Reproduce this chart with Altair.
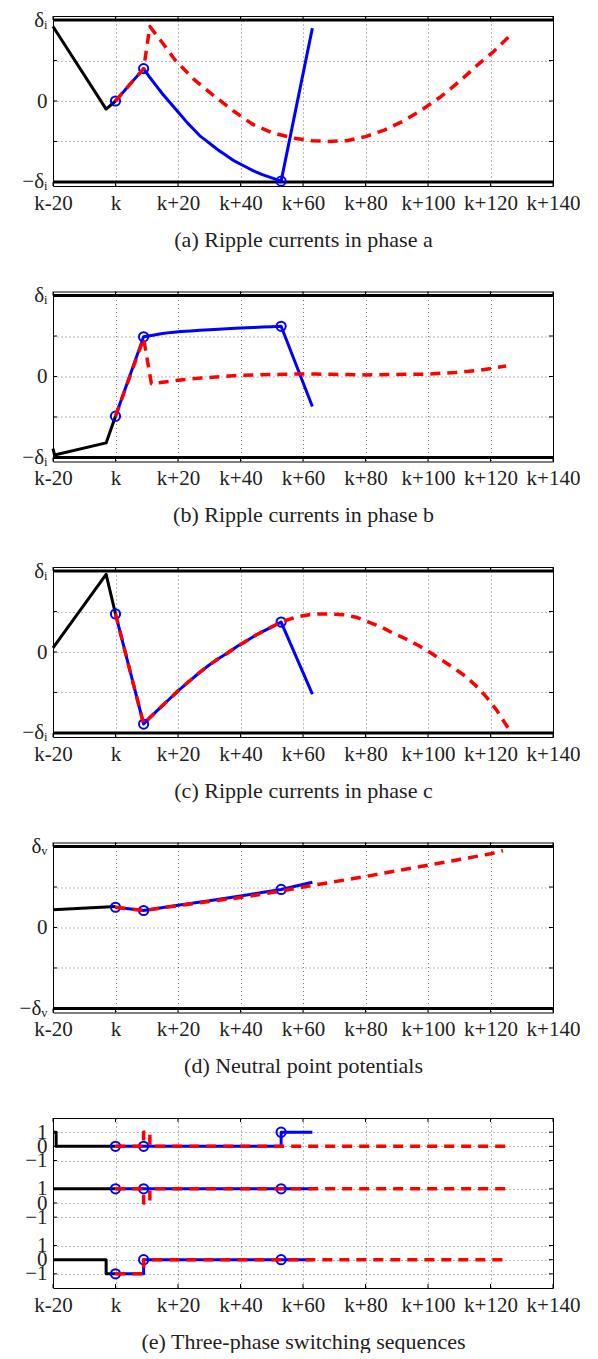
import altair as alt
import pandas as pd

# ---------------- data ----------------
X_TICKS = [-20, 0, 20, 40, 60, 80, 100, 120, 140]

# (a) ripple currents phase a
black_a_x = [-20, -3, 0]
black_a_y = [0.92, -0.10, 0.0]
blue_a_x = [0, 9, 11, 13, 15, 17, 19, 21, 23, 25, 27, 29, 31, 33, 35, 38, 41, 44, 47, 50, 53, 63]
blue_a_y = [0.0, 0.40, 0.29, 0.19, 0.09, 0.0, -0.09, -0.18, -0.27, -0.35, -0.43, -0.49, -0.55,
            -0.61, -0.66, -0.74, -0.80, -0.86, -0.91, -0.95, -0.99, 0.90]
red_a_x = [0, 9, 11, 15, 19, 25, 31, 38, 44, 50, 57, 63, 68, 74, 80, 86, 92, 98, 104, 110, 116, 121, 126]
red_a_y = [0.0, 0.40, 0.92, 0.72, 0.51, 0.27, 0.08, -0.13, -0.29, -0.39, -0.46, -0.49, -0.50, -0.49,
           -0.44, -0.36, -0.25, -0.11, 0.05, 0.24, 0.45, 0.61, 0.80]
circ_a_x = [0, 9, 53]
circ_a_y = [0.0, 0.40, -0.99]

# (b) ripple currents phase b
black_b_x = [-20, -19.5, -3, 0]
black_b_y = [-0.89, -0.97, -0.82, -0.49]
blue_b_x = [0, 9, 12, 15, 18, 21, 24, 27, 30, 33, 37, 40, 44, 47, 50, 53, 63]
blue_b_y = [-0.49, 0.49, 0.51, 0.53, 0.545, 0.555, 0.563, 0.57, 0.578, 0.585, 0.593, 0.60, 0.605,
            0.61, 0.615, 0.62, -0.37]
red_b_x = [0, 9, 11.5, 19, 27, 40, 57, 64, 80, 100, 109, 117, 125]
red_b_y = [-0.49, 0.47, -0.09, -0.05, -0.02, 0.015, 0.03, 0.03, 0.02, 0.03, 0.05, 0.08, 0.13]
circ_b_x = [0, 9, 53]
circ_b_y = [-0.49, 0.49, 0.62]

# (c) ripple currents phase c
black_c_x = [-20, -3, 0]
black_c_y = [0.05, 0.96, 0.47]
blue_c_x = [0, 9, 11, 14, 17, 20, 23, 27, 30, 33, 36, 39, 42, 45, 48, 51, 53, 63]
blue_c_y = [0.47, -0.89, -0.81, -0.70, -0.59, -0.48, -0.38, -0.25, -0.16, -0.08, -0.01, 0.07,
            0.14, 0.21, 0.27, 0.33, 0.37, -0.52]
red_c_x = [0, 9, 11, 14, 17, 20, 23, 27, 30, 33, 36, 39, 42, 45, 48, 51, 53, 56, 59, 62, 65, 69,
           73, 77, 81, 85, 89, 93, 97, 100, 104, 108, 112, 116, 119, 122, 124, 126]
red_c_y = [0.47, -0.89, -0.81, -0.70, -0.59, -0.48, -0.38, -0.25, -0.16, -0.08, -0.01, 0.07,
           0.14, 0.21, 0.27, 0.33, 0.37, 0.41, 0.44, 0.46, 0.47, 0.47, 0.46, 0.43, 0.37, 0.31,
           0.23, 0.16, 0.08, 0.01, -0.09, -0.19, -0.30, -0.44, -0.57, -0.72, -0.84, -0.96]
circ_c_x = [0, 9, 53]
circ_c_y = [0.47, -0.89, 0.37]

# (d) neutral point potentials
black_d_x = [-20, 0]
black_d_y = [0.22, 0.26]
blue_d_x = [0, 9, 20, 30, 40, 53, 63]
blue_d_y = [0.25, 0.21, 0.275, 0.33, 0.39, 0.47, 0.56]
red_d_x = [0, 9, 20, 30, 40, 53, 63, 80, 100, 120, 124]
red_d_y = [0.25, 0.21, 0.27, 0.32, 0.37, 0.45, 0.52, 0.63, 0.77, 0.91, 0.95]
circ_d_x = [0, 9, 53]
circ_d_y = [0.25, 0.21, 0.47]

# (e) switching sequences (step-after change points), per phase
sw_black = {
    "a": ([-20, -19, 0], [1, 0, 0]),
    "b": ([-20, 0], [1, 1]),
    "c": ([-20, -3, 0], [0, -1, -1]),
}
sw_blue = {
    "a": ([0, 53, 63], [0, 1, 1]),
    "b": ([0, 63], [1, 1]),
    "c": ([0, 9, 63], [-1, 0, 0]),
}
sw_red = {
    "a": ([0, 9, 11, 126], [0, 1, 0, 0]),
    "b": ([0, 9, 11, 126], [1, 0, 1, 1]),
    "c": ([0, 9, 126], [-1, 0, 0]),
}
sw_circ = {
    "a": ([0, 9, 53], [0, 0, 1]),
    "b": ([0, 9, 53], [1, 1, 1]),
    "c": ([0, 9, 53], [-1, 0, 0]),
}

captions = [
    "(a) Ripple currents in phase a",
    "(b) Ripple currents in phase b",
    "(c) Ripple currents in phase c",
    "(d) Neutral point potentials",
    "(e) Three-phase switching sequences",
]

# ---------------- styling ----------------
FONT = "Liberation Serif"
W, H = 500, 170
BLACK, BLUE, RED = "#000000", "#0000ff", "#ff0000"
XLABEL_EXPR = ("datum.value == 0 ? 'k' : (datum.value < 0 ? 'k' + datum.value : 'k+' + datum.value)")


def label_expr(vals, labs):
    expr = "''"
    for v, l in zip(vals, labs):
        expr = f"datum.value == {v} ? '{l}' : ({expr})"
    return expr


def df(xs, ys):
    return pd.DataFrame({"x": xs, "y": ys, "i": list(range(len(xs)))})


def panel(ydom, yvals, ylabs, caption, lines, circles, delta=True, step=False):
    xs = alt.Scale(domain=[-20, 140], nice=False, zero=False)
    ysc = alt.Scale(domain=ydom, nice=False, zero=False)
    xaxis = alt.Axis(values=X_TICKS, labelExpr=XLABEL_EXPR, title=caption, grid=True,
                     ticks=False, domain=False, labelPadding=6, titlePadding=16,
                     labelOverlap=False, labelFlush=False)
    yaxis = alt.Axis(values=yvals, labelExpr=label_expr(yvals, ylabs), title=None, grid=True,
                     ticks=False, domain=False, labelPadding=6, labelOverlap=False,
                     labelFlush=False)

    def X(field="x"):
        return alt.X(f"{field}:Q", scale=xs, axis=xaxis)

    def Y(field="y"):
        return alt.Y(f"{field}:Q", scale=ysc, axis=yaxis)

    layers = []
    xt = pd.DataFrame({"x": X_TICKS})
    yt = pd.DataFrame({"y": yvals})
    # inward ticks
    for a, b in [(0, 4), (H, H - 4)]:
        layers.append(alt.Chart(xt).mark_rule(color="black", strokeWidth=1).encode(
            x=X(), y=alt.value(a), y2=alt.value(b)))
    for a, b in [(0, 4), (W, W - 4)]:
        layers.append(alt.Chart(yt).mark_rule(color="black", strokeWidth=1).encode(
            y=Y(), x=alt.value(a), x2=alt.value(b)))
    if delta:
        layers.append(alt.Chart(pd.DataFrame({"y": [1, -1]})).mark_rule(
            color="black", strokeWidth=3).encode(y=Y()))
    interp = "step-after" if step else "linear"
    for d, color, dash, sw in lines:
        mk = dict(color=color, strokeWidth=sw, interpolate=interp, strokeCap="butt",
                  strokeJoin="round")
        if dash:
            mk["strokeDash"] = dash
        enc = dict(x=X(), y=Y(), order=alt.Order("i:Q"))
        if "row" in d.columns:
            enc["detail"] = "row:N"
        layers.append(alt.Chart(d).mark_line(**mk).encode(**enc))
        if color == BLUE and circles is not None:
            layers.append(alt.Chart(circles).mark_point(
                shape="circle", filled=False, size=85, strokeWidth=2, color=BLUE, opacity=1
            ).encode(x=X(), y=Y()))
    return alt.layer(*layers).properties(width=W, height=H)


DASH = [10, 7]

pa = panel([-1.05, 1.05], [-1, -0.5, 0, 0.5, 1], ["−δᵢ", "", "0", "", "δᵢ"], captions[0],
           [(df(black_a_x, black_a_y), BLACK, None, 3), (df(blue_a_x, blue_a_y), BLUE, None, 3),
            (df(red_a_x, red_a_y), RED, DASH, 3.5)], df(circ_a_x, circ_a_y))
pb = panel([-1.05, 1.05], [-1, -0.5, 0, 0.5, 1], ["−δᵢ", "", "0", "", "δᵢ"], captions[1],
           [(df(black_b_x, black_b_y), BLACK, None, 3), (df(blue_b_x, blue_b_y), BLUE, None, 3),
            (df(red_b_x, red_b_y), RED, DASH, 3.5)], df(circ_b_x, circ_b_y))
pc = panel([-1.05, 1.05], [-1, -0.5, 0, 0.5, 1], ["−δᵢ", "", "0", "", "δᵢ"], captions[2],
           [(df(black_c_x, black_c_y), BLACK, None, 3), (df(blue_c_x, blue_c_y), BLUE, None, 3),
            (df(red_c_x, red_c_y), RED, DASH, 3.5)], df(circ_c_x, circ_c_y))
pd_ = panel([-1.05, 1.05], [-1, -0.5, 0, 0.5, 1], ["−δᵥ", "", "0", "", "δᵥ"], captions[3],
            [(df(black_d_x, black_d_y), BLACK, None, 3), (df(blue_d_x, blue_d_y), BLUE, None, 3),
             (df(red_d_x, red_d_y), RED, DASH, 3.5)], df(circ_d_x, circ_d_y))

ROW_OFFSET = {"a": 4, "b": 0, "c": -4}


def sw_df(sig):
    frames = []
    for ph, (xs_, vs_) in sig.items():
        f = df(xs_, [v + ROW_OFFSET[ph] for v in vs_])
        f["row"] = ph
        frames.append(f)
    return pd.concat(frames, ignore_index=True)


e_vals = [5, 4, 3, 1, 0, -1, -3, -4, -5]
e_labs = ["1", "0", "−1"] * 3
pe = panel([-6, 6], e_vals, e_labs, captions[4],
           [(sw_df(sw_black), BLACK, None, 3), (sw_df(sw_blue), BLUE, None, 3),
            (sw_df(sw_red), RED, DASH, 3.5)], sw_df(sw_circ), delta=False, step=True)

chart = alt.vconcat(pa, pb, pc, pd_, pe, spacing=105.5, bounds="flush").properties(
    padding={"left": 10, "top": 0, "right": 5, "bottom": 0}
).configure_view(stroke="black", strokeWidth=1).configure_axis(
    labelFont=FONT, labelFontSize=21, labelColor="#222", titleFont=FONT, titleFontSize=22,
    titleFontWeight="normal", titleColor="#222", gridColor="#000", gridOpacity=0.55,
    gridDash=[1, 3], gridWidth=1
)

chart.save("out.html", embed_options={"renderer": "svg", "actions": False})
